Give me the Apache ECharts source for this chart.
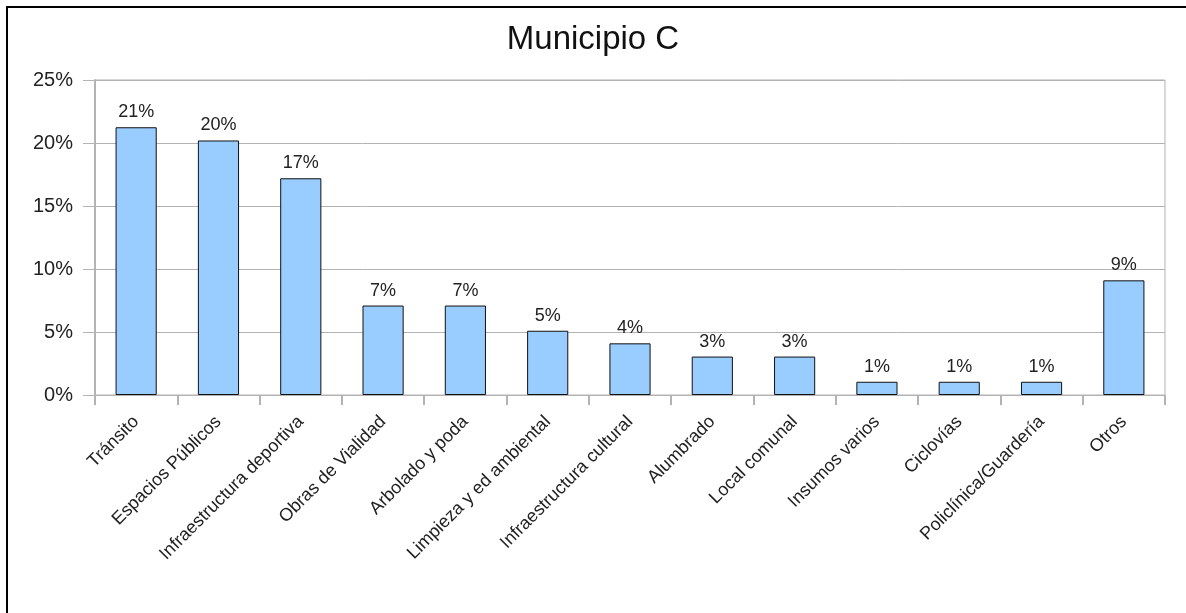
<!DOCTYPE html>
<html>
<head>
<meta charset="utf-8">
<script src="https://cdn.jsdelivr.net/npm/echarts@6/dist/echarts.min.js"></script>
<style>
html,body{margin:0;padding:0;background:#fff;}
#frame{position:absolute;left:6px;top:6px;width:1180px;height:607px;border-left:2px solid #000;border-top:2px solid #000;box-sizing:border-box;}
#chart{position:absolute;left:0;top:0;width:1186px;height:613px;}
</style>
</head>
<body>
<div id="frame"></div>
<div id="chart"></div>
<script>
var categories = ["Tránsito","Espacios Públicos","Infraestructura deportiva","Obras de Vialidad","Arbolado y poda","Limpieza y ed ambiental","Infraestructura cultural","Alumbrado","Local comunal","Insumos varios","Ciclovías","Policlínica/Guardería","Otros"];
var values = [21.25, 20.2, 17.2, 7.1, 7.1, 5.1, 4.1, 3.05, 3.05, 1.05, 1.05, 1.05, 9.1];
var yTicks = [0, 5, 10, 15, 20, 25];
var titleText = "Municipio C";

var chart = echarts.init(document.getElementById('chart'), null, {renderer:'canvas'});
var font = "'Liberation Sans', Arial, sans-serif";
chart.setOption({
  backgroundColor: 'transparent',
  animation: false,
  title: {
    text: titleText, left: 'center', top: 18,
    textStyle: {fontFamily: font, fontSize: 33, fontWeight: 'normal', color: '#111'}
  },
  grid: {left: 95, right: 21, top: 80, bottom: 218, show: true, borderColor: '#b3b3b3', borderWidth: 1},
  xAxis: {
    type: 'category', data: categories, boundaryGap: true,
    axisLine: {show: true, lineStyle: {color: '#b3b3b3', width: 1}},
    axisTick: {show: true, length: 10, alignWithLabel: false, lineStyle: {color: '#b3b3b3', width: 2}},
    axisLabel: {rotate: 45, interval: 0, margin: 24, fontFamily: font, fontSize: 18, color: '#222'}
  },
  yAxis: {
    type: 'value', min: yTicks[0], max: yTicks[yTicks.length-1], interval: 5,
    axisLine: {show: true, lineStyle: {color: '#b3b3b3', width: 2}},
    axisTick: {show: true, length: 12, lineStyle: {color: '#b3b3b3'}},
    splitLine: {show: true, lineStyle: {color: '#b3b3b3', width: 1}},
    axisLabel: {formatter: function(v){return v + '%';}, margin: 22, fontFamily: font, fontSize: 20, color: '#222'}
  },
  series: [{
    type: 'bar', data: values, barWidth: '50%',
    itemStyle: {color: '#99ccff', borderColor: '#111', borderWidth: 1},
    label: {
      show: true, position: 'top', distance: 6,
      formatter: function(p){return Math.round(p.value) + '%';},
      fontFamily: font, fontSize: 18, color: '#222'
    }
  }]
});
</script>
</body>
</html>
